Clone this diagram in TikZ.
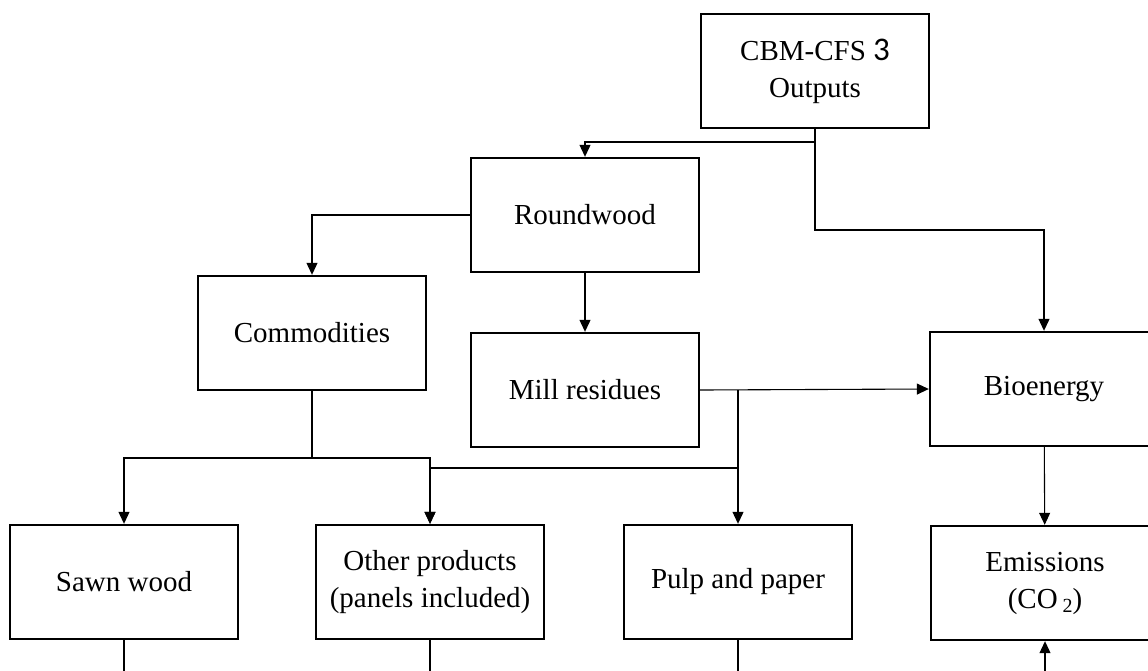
\documentclass[tikz,border=0pt]{standalone}
\usepackage{fontspec}
\setmainfont{Liberation Serif}
\newfontfamily\calib{Carlito}
\usetikzlibrary{arrows.meta}
\begin{document}
\begin{tikzpicture}[x=1pt,y=-1pt,
    box/.style={draw,line width=2.4pt,minimum width=228pt,minimum height=114pt,
      inner sep=0pt,align=center,font=\fontsize{29}{37}\selectfont},
    link/.style={line width=1.1pt},
    >={Triangle[length=12pt,width=11pt]}]
      \useasboundingbox (0,0) rectangle (1148,670);
      \clip (0,0) rectangle (1148,670);
      \draw
        (815,71) node[box] (cbm){CBM-CFS {\calib\fontsize{33}{37}\selectfont 3}\\Outputs}
        (585,215) node[box] (round){Roundwood}
        (312,333) node[box] (comm){Commodities}
        (585,390) node[box] (mill){Mill residues}
        (1044,389) node[box] (bio){Bioenergy}
        (124,582) node[box] (sawn){Sawn wood}
        (430,582) node[box] (other){Other products\\(panels included)}
        (738,582) node[box] (pulp){Pulp and paper}
        (1045,583) node[box] (emis){Emissions\\(CO\,\raisebox{-0.35ex}{\fontsize{20}{20}\selectfont 2})};
      \coordinate (c1) at (815,142);
      \coordinate (c2) at (815,230);
      \coordinate (c3) at (738,390);
      \coordinate (c4) at (312,458);
      \coordinate (c5) at (738,468);
      \begin{scope}[link,->]
        \draw (cbm.south) -- (c1) -| (round.north);
        \draw (c1) -- (c2) -| (bio.north);
        \draw (round.west) -| (comm.north);
        \draw (round) -- (mill);
        \draw (mill.east) -- (bio.west);
        \draw (c3) -- (pulp.north);
        \draw (c5) -| (other.north);
        \draw (c4) -| (sawn.north);
        \draw (c4) -| (other.north);
        \draw (bio) -- (emis);
        \draw (emis.south) ++(0,40) -- (emis.south);
      \end{scope}
      \begin{scope}[link,-]
        \draw (comm.south) -- (c4);
        \draw (sawn.south) -- ++(0,40);
        \draw (other.south) -- ++(0,40);
        \draw (pulp.south) -- ++(0,40);
      \end{scope}
    \end{tikzpicture}
\end{document}
